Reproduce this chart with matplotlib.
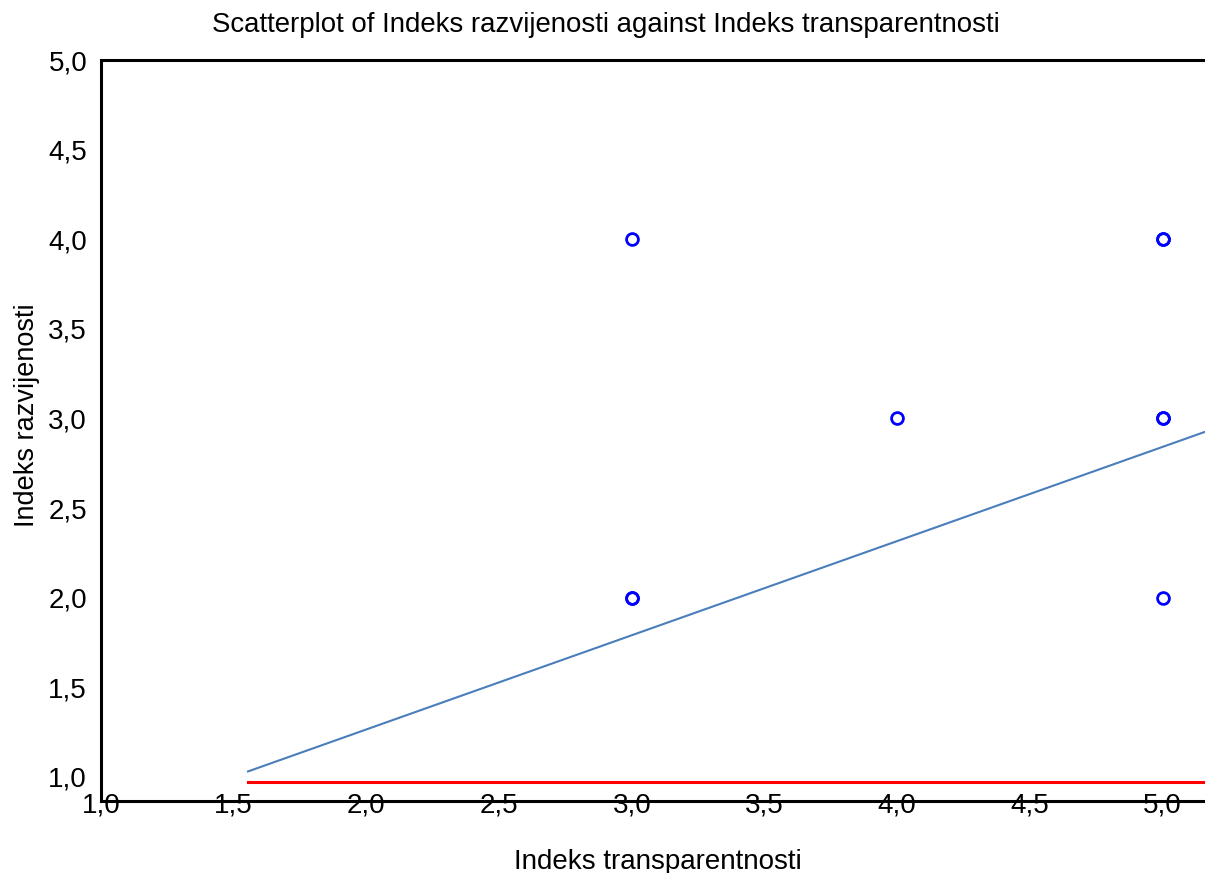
import matplotlib.pyplot as plt
from matplotlib.ticker import FuncFormatter

# data
transparentnost = [3, 3, 3, 4, 5, 5, 5, 5, 5]
razvijenost = [4, 2, 2, 3, 4, 4, 3, 3, 2]

fit_x = [1.554, 5.16]
fit_y = [1.03, 2.925]
ref_x = [1.554, 5.16]
ref_y = [0.97, 0.97]

x_ticks = [1.0, 1.5, 2.0, 2.5, 3.0, 3.5, 4.0, 4.5, 5.0]
y_ticks = [1.0, 1.5, 2.0, 2.5, 3.0, 3.5, 4.0, 4.5, 5.0]

plt.rcParams['font.family'] = ['Liberation Sans', 'DejaVu Sans']

fig = plt.figure(figsize=(12.05, 8.73), dpi=100)
ax = fig.add_axes([101 / 1205, 72 / 873, 1 - 101 / 1205, (801 - 60) / 873])

ax.plot(transparentnost, razvijenost, linestyle='none', marker='o', markersize=8.5,
        markerfacecolor='none', markeredgecolor='#0000ff', markeredgewidth=2, zorder=3)
ax.plot(fit_x, fit_y, color='#4a7ebb', linewidth=1.5)
ax.plot(ref_x, ref_y, color='#ff0000', linewidth=2.2)

ax.set_xlim(1.0, 5.16)
ax.set_ylim(0.865, 5.0)
ax.set_xticks(x_ticks)
ax.set_yticks(y_ticks)
comma = FuncFormatter(lambda v, p: f'{v:.1f}'.replace('.', ','))
ax.xaxis.set_major_formatter(comma)
ax.yaxis.set_major_formatter(comma)
ax.tick_params(axis='both', length=0, labelsize=20)
ax.tick_params(axis='x', pad=-6)
ax.tick_params(axis='y', pad=10)

for side in ['left', 'top', 'bottom']:
    ax.spines[side].set_linewidth(2.2)
    ax.spines[side].set_color('black')
ax.spines['right'].set_visible(False)

# title is centred on the figure, not on the axes
ax.set_title('Scatterplot of Indeks razvijenosti against Indeks transparentnosti',
             fontsize=19.9, x=0.457, pad=20)
ax.set_xlabel('Indeks transparentnosti', fontsize=20, va='center')
ax.set_ylabel('Indeks razvijenosti', fontsize=19.5, va='center')
ax.xaxis.set_label_coords(0.504, -0.082)
ax.yaxis.set_label_coords(-0.067, 0.521)

fig.savefig('out.png', dpi=100)
